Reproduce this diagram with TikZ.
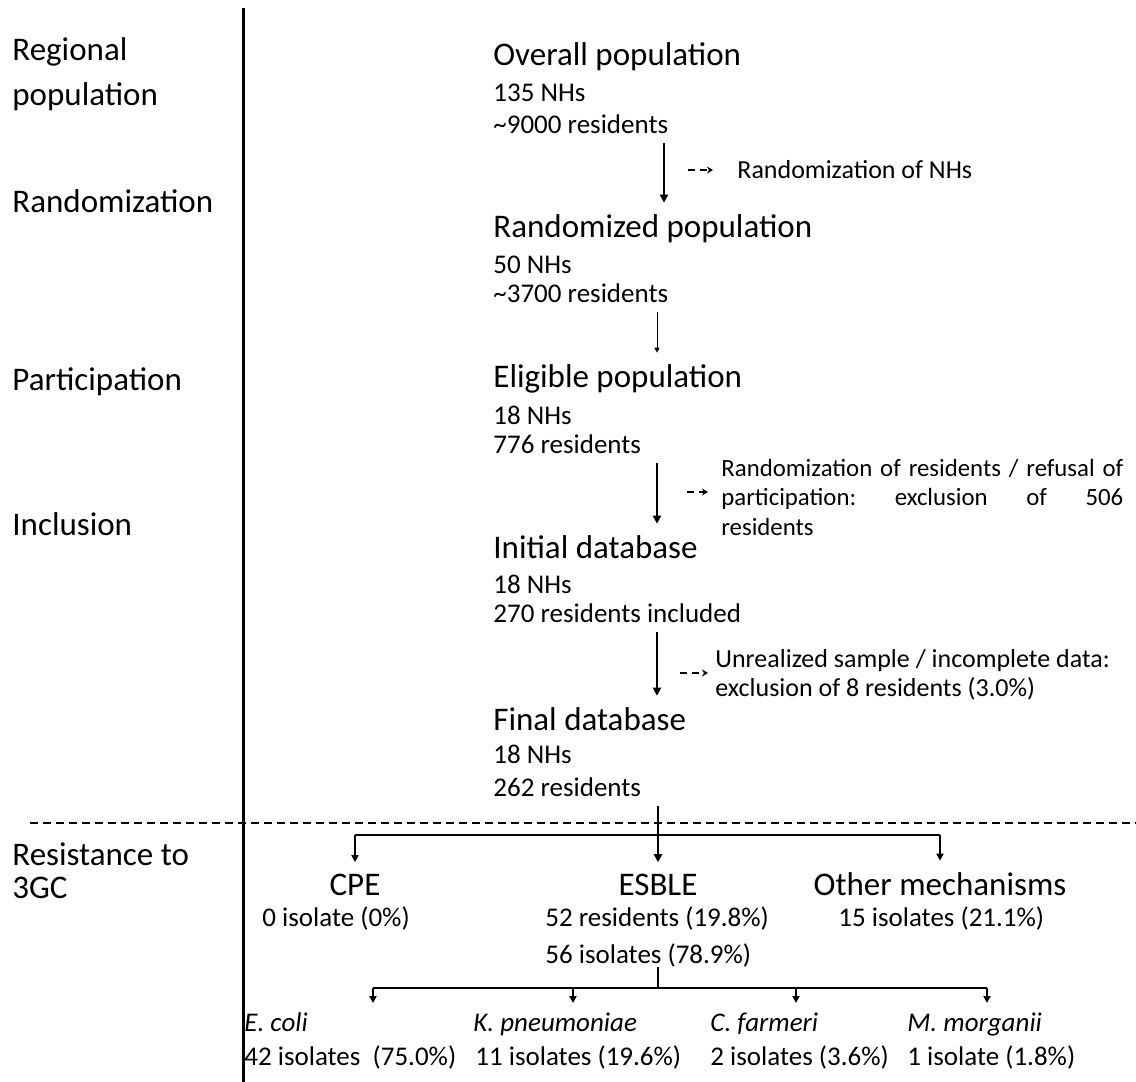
\documentclass[tikz,border=0pt]{standalone}
\usepackage{fontspec}
\setmainfont{Carlito}
\usetikzlibrary{arrows.meta}

\newcommand{\headsize}{\fontsize{16.5}{22.5}\selectfont}
\newcommand{\subsize}{\fontsize{13.5}{15}\selectfont}
\newcommand{\notesize}{\fontsize{13}{14.5}\selectfont}

\tikzset{
  stage/.style={anchor=base west, inner sep=0pt, font=\headsize, align=left},
  head/.style={anchor=base west, inner sep=0pt, font=\headsize},
  sub/.style={anchor=base west, inner sep=0pt, font=\subsize},
  note/.style={anchor=base west, inner sep=0pt, font=\notesize, align=left},
  mech/.style={anchor=base, inner sep=0pt, font=\headsize},
  mainarr/.style={line width=1pt, shorten <=4.5pt, shorten >=5.5pt,
    -{Triangle[length=4pt,width=4pt]}},
  thinarr/.style={line width=0.5pt, shorten <=4.5pt, shorten >=5.5pt,
    -{Triangle[length=2.5pt,width=2.5pt]}},
  dasharr/.style={line width=0.7pt, dash pattern=on 3.5pt off 2.5pt,
    -{Stealth[length=3pt,width=3.5pt]}},
  brline/.style={line width=1.2pt},
  brarr/.style={line width=1.2pt, -{Triangle[length=3.5pt,width=3.5pt]}},
}

\begin{document}
\begin{tikzpicture}[x=0.5pt,y=-0.5pt]
  \useasboundingbox (0,0) rectangle (1136,1082);

  \draw[line width=1.5pt] (243,8) -- (243,1082);
  \draw[line width=0.8pt, dash pattern=on 4pt off 2.5pt] (30,823) -- (1136,823);

  % stages (multi-line nodes sit on their last line)
  \node[stage] (sreg) at (12,105) {Regional\\population};
  \node[stage] (srnd) at (12,212) {Randomization};
  \node[stage] (spar) at (12,390) {Participation};
  \node[stage] (sinc) at (12,535) {Inclusion};
  \node[stage, font=\fontsize{16.5}{16.5}\selectfont] (sres) at (12,898)
    {Resistance to\\3GC};

  % main column
  \node[head] (ovr)  at (493,65)  {Overall population};
  \node[sub]  (ovrn) at (493,101) {135 NHs};
  \node[sub]  (ovrr) at (493,133) {\textasciitilde9000 residents};

  \node[head] (rnd)  at (493,237) {Randomized population};
  \node[sub]  (rndn) at (493,273) {50 NHs};
  \node[sub]  (rndr) at (493,302) {\textasciitilde3700 residents};

  \node[head] (elg)  at (493,387) {Eligible population};
  \node[sub]  (elgn) at (493,424) {18 NHs};
  \node[sub]  (elgr) at (493,453) {776 residents};

  \node[head] (ini)  at (493,558) {Initial database};
  \node[sub]  (inin) at (493,593) {18 NHs};
  \node[sub]  (inir) at (493,622) {270 residents included};

  \node[head] (fin)  at (493,730) {Final database};
  \node[sub]  (finn) at (493,763) {18 NHs};
  \node[sub]  (finr) at (493,796) {262 residents};

  % exclusions
  \node[note] (nrnd) at (737,178) {Randomization of NHs};
  \node[note, font=\fontsize{12.4}{14.8}\selectfont, text width=201pt] (nexc) at (721,476)
    {\makebox[201pt][l]{Randomization\hfill of\hfill residents\hfill /\hfill refusal\hfill of}\\
     \makebox[201pt][l]{participation:\hfill exclusion\hfill of\hfill 506}\\
     residents};
  \node[note] (nunr) at (715,696)
    {Unrealized sample / incomplete data:\\exclusion of 8 residents (3.0\%)};

  \coordinate (xa) at (664,0);
  \coordinate (xb) at (657,0);
  \draw[mainarr] (ovrr.south -| xa) -- (rnd.north -| xa);
  \draw[thinarr] (rndr.south -| xb) -- (elg.north -| xb);
  \draw[mainarr] (elgr.south -| xb) -- (ini.north -| xb);
  \draw[mainarr] (inir.south -| xb) -- (fin.north -| xb);

  \coordinate (d1) at (688,170);
  \coordinate (d2) at (687,492);
  \coordinate (d3) at (680,673);
  \draw[dasharr, shorten >=12pt]  (d1) -- (d1 -| nrnd.west);
  \draw[dasharr, shorten >=6.5pt] (d2) -- (d2 -| nexc.west);
  \draw[dasharr, shorten >=3.5pt] (d3) -- (d3 -| nunr.west);

  % resistance mechanisms
  \node[mech] (cpe) at (355,895) {CPE};
  \node[mech] (esb) at (658,895) {ESBLE};
  \node[mech] (oth) at (940,895) {Other mechanisms};
  \node[sub]  (cpen) at (262,926) {0 isolate (0\%)};
  \node[sub]  (esbr) at (545,926) {52 residents (19.8\%)};
  \node[sub]  (esbi) at (545,963) {56 isolates (78.9\%)};
  \node[sub]  (othn) at (838,926) {15 isolates (21.1\%)};

  \draw[mainarr] (finr.south -| esb) -- (esb.north);
  \coordinate (brA) at (658,835);
  \draw[brline] (brA -| cpe) -- (brA -| oth);
  \draw[brarr, shorten >=5.5pt] (brA -| cpe) -- (cpe.north);
  \draw[brarr, shorten >=5.5pt] (brA -| oth) -- (oth.north);

  % ESBLE species
  \node[sub] (eco)  at (244,1031) {\itshape E. coli};
  \node[sub] (kpn)  at (473,1031) {\itshape K. pneumoniae};
  \node[sub] (cfa)  at (710,1031) {\itshape C. farmeri};
  \node[sub] (mmo)  at (907,1031) {\itshape M. morganii};
  \node[sub] (econ) at (244,1065) {42 isolates\ \ (75.0\%)};
  \node[sub] (kpnn) at (475,1065) {11 isolates (19.6\%)};
  \node[sub] (cfan) at (710,1065) {2 isolates (3.6\%)};
  \node[sub] (mmon) at (907,1065) {1 isolate (1.8\%)};

  \coordinate (brB) at (658,988);
  \coordinate (teco) at (373,1003);
  \coordinate (tkpn) at (573,1003);
  \coordinate (tcfa) at (796,1003);
  \coordinate (tmmo) at (987,1003);
  \draw[brline] (esbi.south -| esb) -- (brB);
  \draw[brline] (brB -| teco) -- (brB -| tmmo);
  \foreach \t in {teco,tkpn,tcfa,tmmo}
    \draw[brarr] (brB -| \t) -- (\t);
\end{tikzpicture}
\end{document}
